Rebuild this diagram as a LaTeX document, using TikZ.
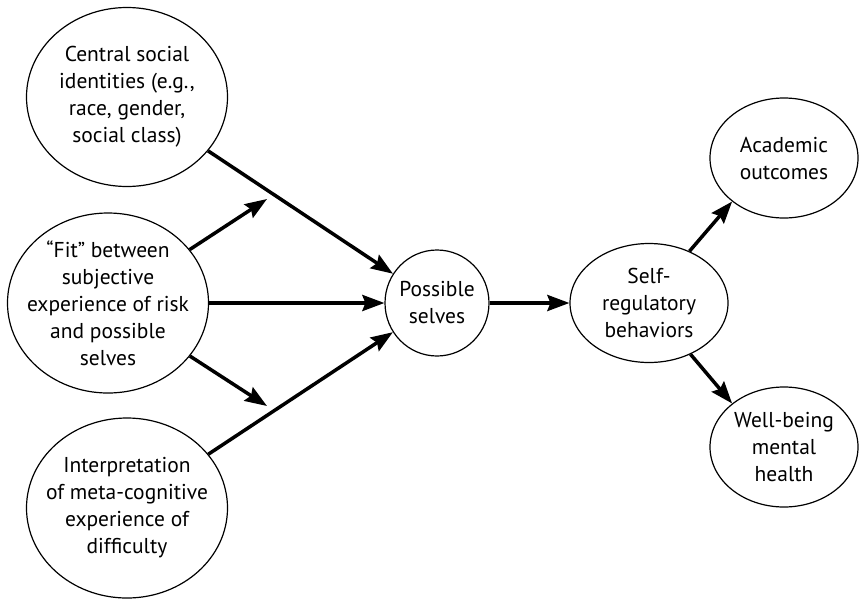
\documentclass[tikz,border=0pt]{standalone}
\usepackage{fontspec}
\setmainfont{PT Sans}
\usetikzlibrary{shapes.geometric,arrows.meta}

\begin{document}
\begin{tikzpicture}[x=1pt,y=-1pt,
    blob/.style={draw,ellipse,line width=1.2pt,inner sep=-25pt,align=center,
      font=\fontsize{21.5}{27}\selectfont},
    arr/.style={line width=3.5pt,-{Stealth[length=22pt,width=16pt,inset=3pt]}}]
  \useasboundingbox (0,0) rectangle (861,600);
  \node[blob,minimum width=201pt,minimum height=179pt] (cent) at (127,97)
    {Central social\\identities (e.g.,\\race, gender,\\social class)};
  \node[blob,minimum width=201pt,minimum height=180pt] (fit) at (108,303)
    {``Fit'' between\\subjective\\experience of risk\\and possible\\selves};
  \node[blob,minimum width=201pt,minimum height=180pt] (interp) at (127,508)
    {Interpretation\\of meta-cognitive\\experience of\\difficulty};
  \node[blob,minimum width=104pt,minimum height=106pt] (pos) at (437,303)
    {Possible\\selves};
  \node[blob,minimum width=158pt,minimum height=119pt] (self) at (649,303)
    {Self-\\regulatory\\behaviors};
  \node[blob,minimum width=148pt,minimum height=120pt] (acad) at (784,158)
    {Academic\\outcomes};
  \node[blob,minimum width=148pt,minimum height=120pt] (well) at (784,447)
    {Well-being\\mental\\health};
  \coordinate (up) at (267,199);
  \coordinate (dn) at (267,406);
  \draw[arr] (cent) -- (pos);
  \draw[arr] (fit) -- (pos);
  \draw[arr] (interp) -- (pos);
  \draw[arr] (fit) -- (up);
  \draw[arr] (fit) -- (dn);
  \draw[arr] (pos) -- (self);
  \draw[arr] (self.52) -- (acad.220);
  \draw[arr] (self.-51) -- (well.140);
\end{tikzpicture}
\end{document}
